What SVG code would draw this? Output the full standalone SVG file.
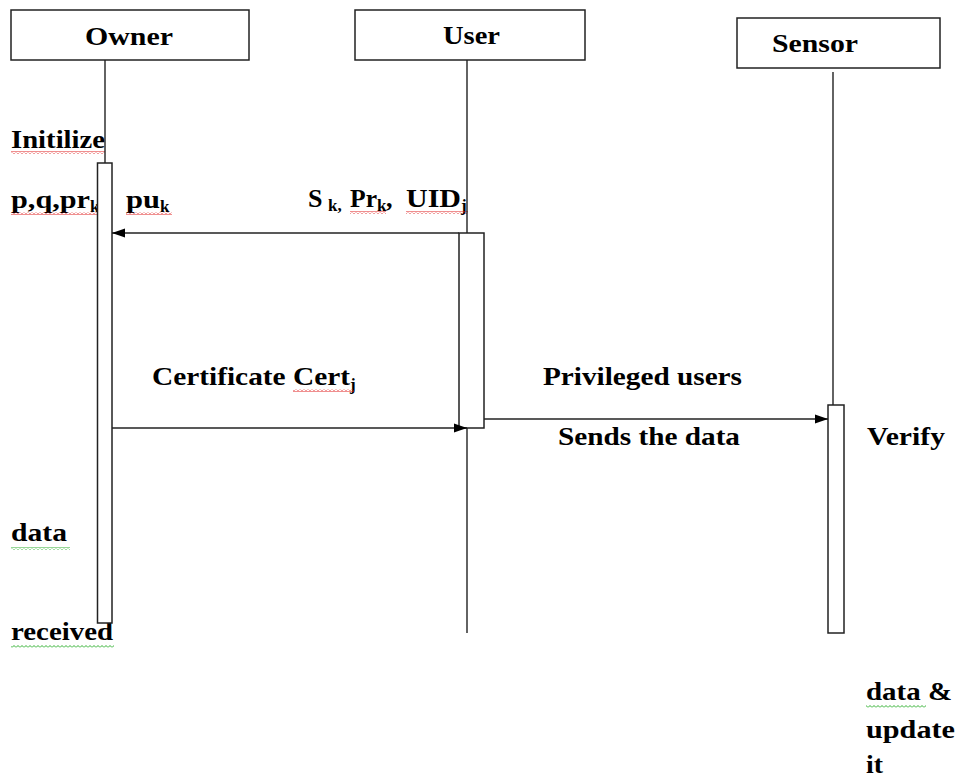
<svg xmlns="http://www.w3.org/2000/svg" width="959" height="780" viewBox="0 0 959 780">
<style>
.box{fill:#fff;stroke:#222;stroke-width:1.5}
.life{stroke:#222;stroke-width:1.4;fill:none}
.act{fill:#fff;stroke:#222;stroke-width:1.5}
.msg{stroke:#222;stroke-width:1.4;fill:none}
text{font-family:"Liberation Serif","Times New Roman",serif;font-weight:bold;font-size:26px;fill:#000}
.sub{font-size:17px}
</style>
<defs>
<marker id="ah" markerWidth="14" markerHeight="10" refX="13" refY="5" orient="auto" markerUnits="userSpaceOnUse">
<path d="M0,0.5 L13,5 L0,9.5 Z" fill="#000"/>
</marker>
<pattern id="sqR" width="4" height="3" patternUnits="userSpaceOnUse"><polyline points="0,2.5 2,0.5 4,2.5" fill="none" stroke="#e02020" stroke-width="1"/></pattern>
<pattern id="sqG" width="4" height="3" patternUnits="userSpaceOnUse"><polyline points="0,2.5 2,0.5 4,2.5" fill="none" stroke="#30b030" stroke-width="1"/></pattern>
</defs>
<rect width="959" height="780" fill="#fff"/>

<g id="labels">
<text x="11" y="148" textLength="94" lengthAdjust="spacingAndGlyphs">Initilize</text>
<text x="11" y="208" textLength="79" lengthAdjust="spacingAndGlyphs">p,q,pr</text>
<text x="90" y="212" class="sub">k</text>
<text x="126" y="208" textLength="34" lengthAdjust="spacingAndGlyphs">pu</text>
<text x="160" y="212" class="sub">k</text>
<text x="308" y="207">S</text>
<text x="328" y="211" class="sub">k,</text>
<text x="350" y="207" textLength="27" lengthAdjust="spacingAndGlyphs">Pr</text>
<text x="377" y="211" class="sub">k</text>
<text x="386" y="207">,</text>
<text x="406" y="207" textLength="55" lengthAdjust="spacingAndGlyphs">UID</text>
<text x="461" y="211" class="sub">j</text>
<text x="152" y="385" textLength="198" lengthAdjust="spacingAndGlyphs">Certificate Cert</text>
<text x="350" y="390" class="sub">j</text>
<text x="543" y="385" textLength="199" lengthAdjust="spacingAndGlyphs">Privileged users</text>
<text x="558" y="445" textLength="182" lengthAdjust="spacingAndGlyphs">Sends the data</text>
<text x="867" y="445" textLength="78" lengthAdjust="spacingAndGlyphs">Verify</text>
<text x="11" y="541" textLength="56" lengthAdjust="spacingAndGlyphs">data</text>
<text x="11" y="640" textLength="102" lengthAdjust="spacingAndGlyphs">received</text>
<text x="866" y="700" textLength="86" lengthAdjust="spacingAndGlyphs">data &amp;</text>
<text x="866" y="738" textLength="89" lengthAdjust="spacingAndGlyphs">update</text>
<text x="866" y="773" textLength="17" lengthAdjust="spacingAndGlyphs">it</text>
<g id="squiggles">
<rect x="11" y="151" width="94" height="3" fill="url(#sqR)"/>
<rect x="11" y="212" width="86" height="3" fill="url(#sqR)"/>
<rect x="126" y="212" width="46" height="3" fill="url(#sqR)"/>
<rect x="350" y="211" width="36" height="3" fill="url(#sqR)"/>
<rect x="406" y="211" width="62" height="3" fill="url(#sqR)"/>
<rect x="293" y="389" width="61" height="3" fill="url(#sqR)"/>
<rect x="11" y="547" width="59" height="3" fill="url(#sqG)"/>
<rect x="11" y="645" width="103" height="3" fill="url(#sqG)"/>
<rect x="866" y="705" width="60" height="3" fill="url(#sqG)"/>
</g>
</g>

<g id="owner">
<rect class="box" x="11" y="10" width="238" height="50"/>
<text x="85" y="45" textLength="88" lengthAdjust="spacingAndGlyphs">Owner</text>
<line class="life" x1="105" y1="60" x2="105" y2="163"/>
<rect class="act" x="97.5" y="163" width="14.5" height="460"/>
</g>

<g id="user">
<rect class="box" x="355" y="10" width="230" height="50"/>
<text x="443" y="44" textLength="57" lengthAdjust="spacingAndGlyphs">User</text>
<line class="life" x1="467" y1="60" x2="467" y2="633"/>
<rect class="act" x="459" y="233" width="25" height="195"/>
</g>

<g id="sensor">
<rect class="box" x="737" y="18" width="203" height="50"/>
<text x="772" y="52" textLength="86" lengthAdjust="spacingAndGlyphs">Sensor</text>
<line class="life" x1="833" y1="72" x2="833" y2="405"/>
<rect class="act" x="828" y="405" width="16" height="228"/>
</g>

<g id="connectors">
<line class="msg" x1="459" y1="233" x2="112" y2="233" marker-end="url(#ah)"/>
<line class="msg" x1="112" y1="428" x2="467" y2="428" marker-end="url(#ah)"/>
<line class="msg" x1="484" y1="419" x2="828" y2="419" marker-end="url(#ah)"/>
</g>
</svg>
